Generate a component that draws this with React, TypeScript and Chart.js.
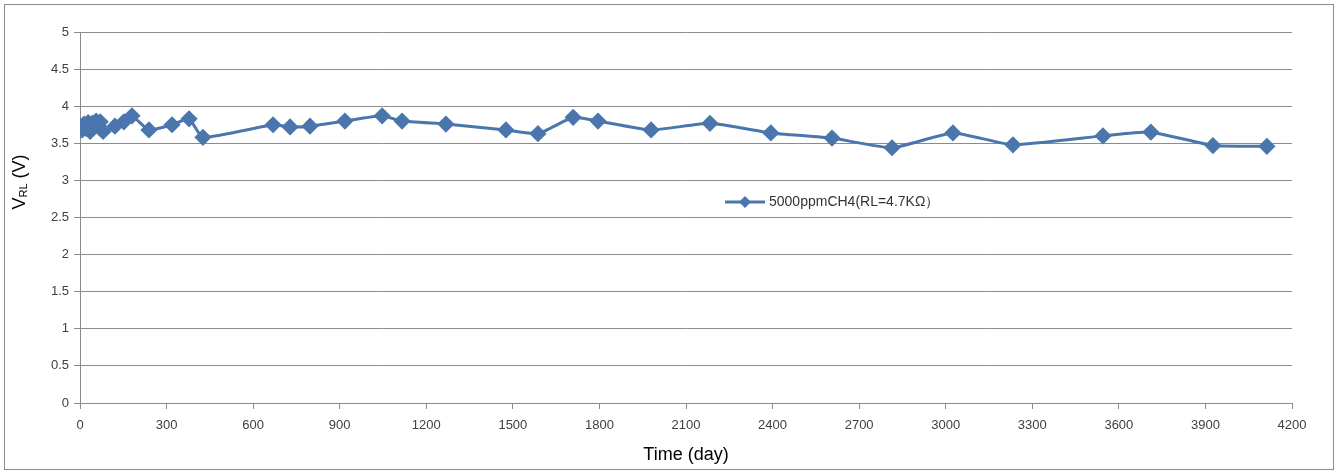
import React, { useEffect, useRef } from "react";
import { Chart, registerables } from "chart.js";

Chart.register(...registerables);

const days: number[] = [0, 7, 14, 21, 28, 35, 42, 49, 56, 63, 70, 80, 121, 152, 180, 239, 319, 378, 426, 669, 728, 797, 918, 1047, 1116, 1268, 1476, 1587, 1709, 1795, 1979, 2183, 2394, 2606, 2814, 3025, 3233, 3545, 3711, 3926, 4113];
const voltages: number[] = [3.72, 3.68, 3.76, 3.7, 3.78, 3.66, 3.77, 3.72, 3.8, 3.74, 3.79, 3.66, 3.73, 3.79, 3.87, 3.68, 3.75, 3.83, 3.58, 3.75, 3.72, 3.73, 3.8, 3.87, 3.8, 3.76, 3.68, 3.63, 3.85, 3.8, 3.68, 3.77, 3.64, 3.57, 3.44, 3.64, 3.48, 3.6, 3.65, 3.47, 3.46];
const seriesLabel = "5000ppmCH4(RL=4.7KΩ）";
const xTitle = "Time (day)";
const yTitleMain = "V";
const yTitleSub = "RL";
const yTitleTail = " (V)";

const LINE = "#4a76ad";
const FONT = "'Liberation Sans', Arial, sans-serif";

const decorPlugin = {
  id: "decor",
  afterDraw(chart: any) {
    const { ctx, chartArea } = chart;
    ctx.save();
    // legend
    const lx = 720;
    const ly = 197;
    ctx.strokeStyle = LINE;
    ctx.lineWidth = 3;
    ctx.beginPath();
    ctx.moveTo(lx, ly);
    ctx.lineTo(lx + 40, ly);
    ctx.stroke();
    ctx.fillStyle = LINE;
    ctx.beginPath();
    ctx.moveTo(lx + 20, ly - 6);
    ctx.lineTo(lx + 26, ly);
    ctx.lineTo(lx + 20, ly + 6);
    ctx.lineTo(lx + 14, ly);
    ctx.closePath();
    ctx.fill();
    ctx.fillStyle = "#333";
    ctx.font = `14px ${FONT}`;
    ctx.textBaseline = "middle";
    ctx.textAlign = "left";
    ctx.fillText(seriesLabel, lx + 44, ly);

    // x title
    ctx.fillStyle = "#000";
    ctx.font = `18px ${FONT}`;
    ctx.textAlign = "center";
    ctx.textBaseline = "middle";
    ctx.fillText(xTitle, (chartArea.left + chartArea.right) / 2, 450);

    // y title
    ctx.translate(15, 177);
    ctx.rotate(-Math.PI / 2);
    const big = `18px ${FONT}`;
    const small = `11px ${FONT}`;
    ctx.font = big;
    const w1 = ctx.measureText(yTitleMain).width;
    const w3 = ctx.measureText(yTitleTail).width;
    ctx.font = small;
    const w2 = ctx.measureText(yTitleSub).width;
    let x = -(w1 + w2 + w3) / 2;
    ctx.textAlign = "left";
    ctx.textBaseline = "middle";
    ctx.font = big;
    ctx.fillText(yTitleMain, x, 0);
    x += w1;
    ctx.font = small;
    ctx.fillText(yTitleSub, x, 4);
    x += w2;
    ctx.font = big;
    ctx.fillText(yTitleTail, x, 0);
    ctx.restore();
  },
};

export default function App() {
  const ref = useRef<HTMLCanvasElement | null>(null);
  useEffect(() => {
    if (!ref.current) return;
    const chart = new Chart(ref.current, {
      type: "scatter",
      data: {
        datasets: [
          {
            label: seriesLabel,
            data: days.map((d, i) => ({ x: d, y: voltages[i] })),
            showLine: true,
            borderColor: LINE,
            backgroundColor: LINE,
            borderWidth: 3,
            pointStyle: "rectRot",
            pointRadius: 6.5,
            pointHoverRadius: 6.5,
            tension: 0.15,
          },
        ],
      },
      options: {
        animation: false,
        responsive: false,
        maintainAspectRatio: false,
        layout: { padding: { left: 0, right: 41, top: 27, bottom: 0 } },
        plugins: { legend: { display: false }, tooltip: { enabled: false } },
        scales: {
          x: {
            type: "linear",
            min: 0,
            max: 4200,
            afterFit: (s: any) => {
              s.height = 66;
            },
            ticks: {
              stepSize: 300,
              color: "#404040",
              font: { family: FONT, size: 13 },
              padding: 9,
              maxRotation: 0,
              callback: (v: any) => String(v),
            },
            grid: { drawOnChartArea: false, drawTicks: true, tickLength: 6, color: "#8c8c8c" },
            border: { display: true, color: "#8c8c8c", width: 1 },
          },
          y: {
            min: 0,
            max: 5,
            afterFit: (s: any) => {
              s.width = 75;
            },
            ticks: {
              stepSize: 0.5,
              color: "#404040",
              font: { family: FONT, size: 13 },
              padding: 5,
              callback: (v: any) => String(v),
            },
            grid: { color: "#8c8c8c", tickLength: 6 },
            border: { display: true, color: "#8c8c8c", width: 1 },
          },
        },
      },
      plugins: [decorPlugin],
    });
    return () => chart.destroy();
  }, []);
  return (
    <div
      style={{
        position: "absolute",
        left: 4,
        top: 4,
        width: 1328,
        height: 464,
        border: "1px solid #8c8c8c",
        background: "#fff",
      }}
    >
      <canvas ref={ref} width={1328} height={464} style={{ display: "block", width: 1328, height: 464 }} />
    </div>
  );
}
